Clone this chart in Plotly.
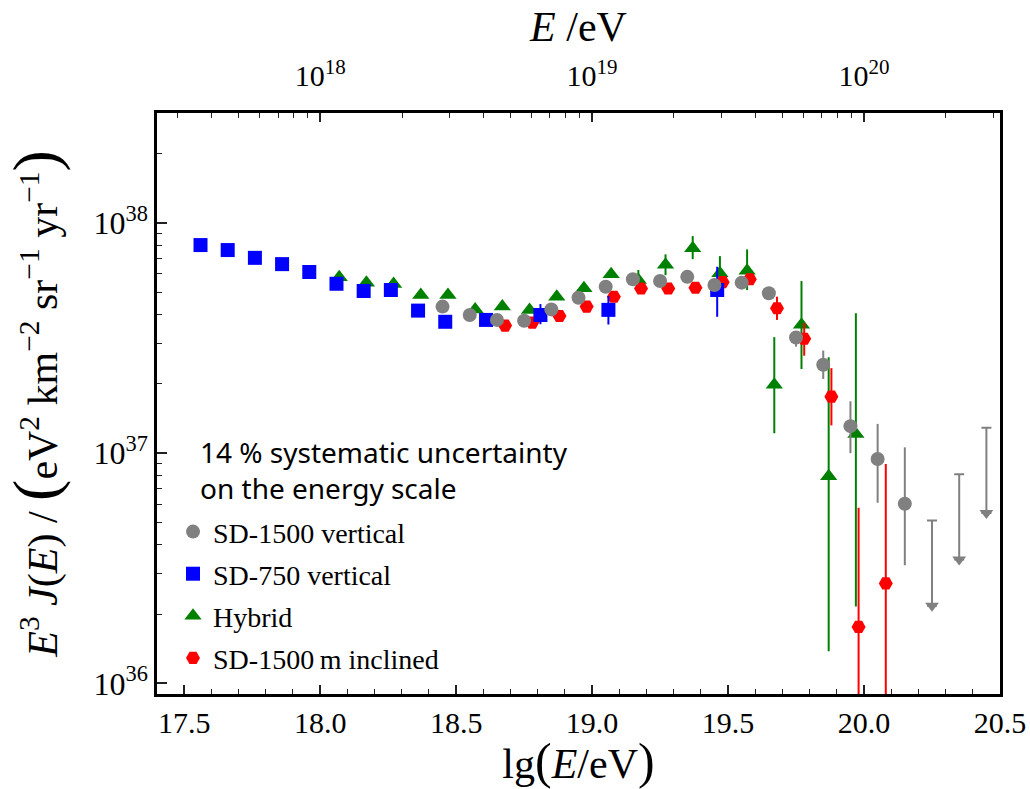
import numpy as np
import plotly.graph_objects as go

# ---- data: E^3 J(E) in eV^2 km^-2 sr^-1 yr^-1 versus lg(E/eV) ----
# SD-1500 vertical
sd1500_lg = [18.45, 18.55, 18.65, 18.75, 18.85, 18.95, 19.05, 19.15, 19.25,
             19.35, 19.45, 19.55, 19.65, 19.75, 19.85, 19.95, 20.05, 20.15]
sd1500_flux = [4.33e37, 3.98e37, 3.79e37, 3.76e37, 4.21e37, 4.73e37, 5.28e37,
               5.69e37, 5.59e37, 5.83e37, 5.37e37, 5.50e37, 4.95e37, 3.18e37,
               2.42e37, 1.31e37, 9.44e36, 6.03e36]
sd1500_hi = [None, None, None, None, None, None, None, None, None, None, None,
             None, None, 3.33e37, 2.79e37, 1.68e37, 1.34e37, 1.06e37]
sd1500_lo = [None, None, None, None, None, None, None, None, None, None, None,
             None, None, 2.90e37, 2.10e37, 1.00e37, 6.09e36, 3.26e36]
# SD-1500 vertical upper limits
sd1500_ul_lg = [20.25, 20.35, 20.45]
sd1500_ul = [5.10e36, 8.09e36, 1.29e37]

# SD-750 vertical
sd750_lg = [17.56, 17.66, 17.76, 17.86, 17.96, 18.06, 18.16, 18.26, 18.36,
            18.46, 18.61, 18.81, 19.06, 19.46]
sd750_flux = [8.01e37, 7.62e37, 7.05e37, 6.62e37, 6.12e37, 5.44e37, 5.06e37,
              5.11e37, 4.16e37, 3.72e37, 3.79e37, 3.98e37, 4.19e37, 5.11e37]
sd750_hi = [None, None, None, None, None, None, None, None, None, None, None,
            4.44e37, 4.81e37, 6.45e37]
sd750_lo = [None, None, None, None, None, None, None, None, None, None, None,
            3.63e37, 3.62e37, 3.91e37]

# Hybrid
hybrid_lg = [18.07, 18.17, 18.27, 18.37, 18.47, 18.57, 18.67, 18.77, 18.87,
             18.97, 19.07, 19.17, 19.27, 19.37, 19.47, 19.57, 19.67, 19.77,
             19.87, 19.97]
hybrid_flux = [5.80e37, 5.50e37, 5.43e37, 4.86e37, 4.86e37, 4.21e37, 4.33e37,
               4.19e37, 4.78e37, 5.20e37, 5.99e37, 5.65e37, 6.58e37, 7.75e37,
               6.04e37, 6.19e37, 1.98e37, 3.61e37, 7.93e36, 1.21e37]
hybrid_hi = [None, None, None, None, None, None, None, None, None, None, None,
             6.24e37, 7.30e37, 8.76e37, 7.17e37, 7.67e37, 3.19e37, 5.59e37,
             2.61e37, 4.05e37]
hybrid_lo = [None, None, None, None, None, None, None, None, None, None, None,
             5.28e37, 5.93e37, 6.96e37, 5.11e37, 5.11e37, 1.22e37, 2.32e37,
             1.38e36, 2.16e36]

# SD-1500 m inclined
incl_lg = [18.68, 18.78, 18.88, 18.98, 19.08, 19.18, 19.28, 19.38, 19.48,
           19.58, 19.68, 19.78, 19.88, 19.98, 20.08]
incl_flux = [3.58e37, 3.69e37, 3.94e37, 4.33e37, 4.78e37, 5.19e37, 5.19e37,
             5.23e37, 5.53e37, 5.69e37, 4.26e37, 3.14e37, 1.76e37, 1.76e36,
             2.72e36]
incl_hi = [None, None, None, None, None, None, None, None, 5.83e37, None,
           4.78e37, 3.68e37, 2.34e37, 5.79e36, 8.98e36]
incl_lo = [None, None, None, None, None, None, None, None, 5.20e37, None,
           3.79e37, 2.65e37, 1.32e37, 1e35, 1e35]

# axis ticks
x_ticks = [17.5, 18.0, 18.5, 19.0, 19.5, 20.0, 20.5]
y_ticks = [1e36, 1e37, 1e38]
top_ticks = [18, 19, 20]

X_RANGE = [17.4, 20.5]
Y_RANGE = [np.log10(9e35), np.log10(3e38)]
ARROW_DECADES = 0.37

SERIF = "Liberation Serif, DejaVu Serif, serif"
SANS = "Noto Sans, Open Sans, sans-serif"


def err_arrays(y, hi, lo):
    plus = [0 if h is None else h - v for v, h in zip(y, hi)]
    minus = [0 if l is None else v - l for v, l in zip(y, lo)]
    return plus, minus


def series(name, x, y, hi, lo, color, symbol, rank, size=14):
    plus, minus = err_arrays(y, hi, lo)
    return go.Scatter(
        x=x, y=y, mode="markers", name=name,
        legendgroup=name, legendrank=rank,
        marker=dict(color=color, symbol=symbol, size=size, line=dict(width=0)),
        error_y=dict(type="data", symmetric=False, array=plus,
                     arrayminus=minus, color=color, thickness=2, width=0),
    )


fig = go.Figure()

# drawing order: hybrid at the bottom, SD-1500 vertical on top
fig.add_trace(series("Hybrid", hybrid_lg, hybrid_flux, hybrid_hi, hybrid_lo,
                     "#008000", "triangle-up", 3, size=15))
fig.add_trace(series("SD-1500\u2009m inclined", incl_lg, incl_flux, incl_hi,
                     incl_lo, "#ff0000", "hexagon2", 4))
fig.add_trace(series("SD-750 vertical", sd750_lg, sd750_flux, sd750_hi,
                     sd750_lo, "#0000ff", "square", 2, size=14))
fig.add_trace(series("SD-1500 vertical", sd1500_lg, sd1500_flux, sd1500_hi,
                     sd1500_lo, "#808080", "circle", 1))

# upper limits drawn as capped arrows pointing down
ul_tip = [v * 10 ** (-ARROW_DECADES) for v in sd1500_ul]
fig.add_trace(go.Scatter(
    x=sd1500_ul_lg, y=ul_tip, mode="markers", showlegend=False,
    marker=dict(color="#808080", symbol="triangle-down", size=12),
    error_y=dict(type="data", symmetric=False,
                 array=[u - t for u, t in zip(sd1500_ul, ul_tip)],
                 arrayminus=[0] * len(ul_tip),
                 color="#808080", thickness=2, width=5),
))

# carrier for the top energy axis
fig.add_trace(go.Scatter(x=[None], y=[None], xaxis="x2", showlegend=False,
                         hoverinfo="skip"))

top_minor = [np.log10(k * 10.0 ** n) for n in range(17, 21) for k in range(2, 10)
             if X_RANGE[0] <= np.log10(k * 10.0 ** n) <= X_RANGE[1]]
y_minor = [k * 10.0 ** n for n in range(35, 39) for k in range(2, 10)
           if Y_RANGE[0] <= np.log10(k * 10.0 ** n) <= Y_RANGE[1]]

BIG = "<span style='font-size:{}px'>{}</span>"

fig.update_layout(
    width=1030, height=789,
    margin=dict(l=157, r=30, t=113, b=95),
    paper_bgcolor="white", plot_bgcolor="white",
    font=dict(family=SERIF, color="black"),
    showlegend=True,
    legend=dict(
        x=0.019, y=0.322, xanchor="left", yanchor="top",
        font=dict(family=SERIF, size=28, color="black"),
        bgcolor="rgba(0,0,0,0)", traceorder="grouped", tracegroupgap=2.7,
        itemsizing="trace",
    ),
    xaxis=dict(
        range=X_RANGE, tickmode="array", tickvals=x_ticks,
        ticktext=[f"{v:.1f}" for v in x_ticks],
        ticks="inside", ticklen=9, tickwidth=1.5, tickcolor="#222",
        minor=dict(dtick=0.1, tick0=17.4, ticks="inside", ticklen=5,
                   tickwidth=1.2, tickcolor="#222", showgrid=False),
        showgrid=False, zeroline=False, automargin=False,
        showline=True, linecolor="black", linewidth=2.5, mirror=False,
        tickfont=dict(family=SERIF, size=30),
        title=dict(text="lg" + BIG.format(50, "(") + "<i>E</i>/eV"
                   + BIG.format(50, ")"),
                   font=dict(family=SERIF, size=42), standoff=2),
    ),
    xaxis2=dict(
        overlaying="x", side="top", range=X_RANGE, anchor="y",
        tickmode="array", tickvals=top_ticks,
        ticktext=[f"10<sup>{v}</sup>" for v in top_ticks],
        ticks="inside", ticklen=9, tickwidth=1.5, tickcolor="#222",
        minor=dict(tickmode="array", tickvals=top_minor, ticks="inside",
                   ticklen=5, tickwidth=1.2, tickcolor="#222", showgrid=False),
        showgrid=False, zeroline=False, automargin=False,
        showline=True, linecolor="black", linewidth=2.5,
        ticklabelstandoff=12,
        tickfont=dict(family=SERIF, size=30),
        title=dict(text="<i>E</i> /eV", font=dict(family=SERIF, size=42),
                   standoff=0),
    ),
    yaxis=dict(
        type="log", range=Y_RANGE, tickmode="array", tickvals=y_ticks,
        ticktext=[f"10<sup>{int(np.log10(v))}</sup>" for v in y_ticks],
        ticks="inside", ticklen=10, tickwidth=1.5, tickcolor="#222",
        minor=dict(tickmode="array", tickvals=y_minor, ticks="inside",
                   ticklen=5, tickwidth=1.2, tickcolor="#222", showgrid=False),
        showgrid=False, zeroline=False, automargin=False,
        showline=True, linecolor="black", linewidth=2.5, mirror=True,
        tickfont=dict(family=SERIF, size=32),
        title=dict(
            text=("<i>E</i><sup>3</sup> <i>J</i>(<i>E</i>) / "
                  + BIG.format(64, "(") + "eV<sup>2</sup> "
                  "km<sup>\u22122</sup> sr<sup>\u22121</sup> "
                  "yr<sup>\u22121</sup>" + BIG.format(64, ")")),
            font=dict(family=SERIF, size=42), standoff=28),
    ),
    annotations=[dict(
        x=0.0486, y=0.452, xref="paper", yref="paper",
        xanchor="left", yanchor="top", align="left", showarrow=False,
        text="14 % systematic uncertainty<br>on the energy scale",
        font=dict(family=SANS, size=28, color="black"),
    )],
)

fig.write_html("out.html")
